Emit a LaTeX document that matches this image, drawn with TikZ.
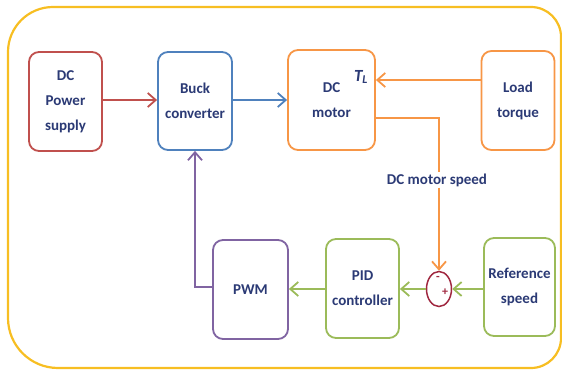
\documentclass[tikz,border=0pt]{standalone}
\usepackage{fontspec}
\setmainfont{Carlito}
\usetikzlibrary{arrows.meta,shapes.geometric}
\definecolor{cred}{HTML}{C0504D}
\definecolor{cblue}{HTML}{4F81BD}
\definecolor{corange}{HTML}{F79646}
\definecolor{cgreen}{HTML}{9BBB59}
\definecolor{cpurple}{HTML}{8064A2}
\definecolor{ctext}{HTML}{2B3A75}
\definecolor{ccirc}{HTML}{A02840}
\definecolor{cframe}{HTML}{F7BE22}
\tikzset{
  blk/.style={draw, line width=1.8pt, rounded corners=10pt, fill=white,
    text=ctext, align=center, font=\fontsize{15}{25}\selectfont\bfseries,
    inner sep=0pt},
  conn/.style={line width=1.8pt, -{Straight Barb[length=8pt,width=14pt,line width=1.8pt]}},
  lbl/.style={text=ctext, font=\fontsize{15}{25}\selectfont\bfseries, inner sep=1pt},
}
\begin{document}
\begin{tikzpicture}[x=1pt,y=-1pt]
\useasboundingbox (0,0) rectangle (562,374);
% frame
\draw[cframe, line width=2.2pt]
  (53,7) -- (531,7) arc[start angle=-90,end angle=0,radius=30] -- (561,338)
  arc[start angle=0,end angle=90,radius=30] -- (58,368)
  arc[start angle=90,end angle=180,radius=50] -- (8,52)
  arc[start angle=180,end angle=270,radius=45] -- cycle;
% blocks
\node[blk, draw=cred, minimum width=73pt, minimum height=99pt] (dc) at (65.5,101.5) {DC\\Power\\supply};
\node[blk, draw=cblue, minimum width=74pt, minimum height=98pt] (buck) at (195,101) {Buck\\converter};
\node[blk, draw=corange, minimum width=87pt, minimum height=100pt] (motor) at (331.5,100) {DC\\motor};
\node[blk, draw=corange, minimum width=73pt, minimum height=99pt] (load) at (518,100.5) {Load\\torque};
\node[blk, draw=cpurple, minimum width=75pt, minimum height=99pt] (pwm) at (250.5,289.5) {PWM};
\node[blk, draw=cgreen, minimum width=73pt, minimum height=99pt] (pid) at (362.5,288.5) {PID\\controller};
\node[blk, draw=cgreen, minimum width=71pt, minimum height=98pt] (ref) at (519.5,287) {Reference\\speed};
\node[draw=ccirc, line width=1.5pt, ellipse, minimum width=25pt, minimum height=35pt, inner sep=0pt] (sum) at (439,289) {};
\node[text=ccirc, font=\fontsize{12}{12}\selectfont\bfseries, inner sep=0pt] (minus) at (438,278) {-};
\node[text=ccirc, font=\fontsize{12}{12}\selectfont\bfseries, inner sep=0pt] (plus) at (445,292) {+};
\node[lbl, font=\fontsize{17}{25}\selectfont\bfseries\itshape] (tl) at (361,77) {T\textsubscript{L}};
\node[lbl] (spd) at (437,180) {DC motor speed};
% connectors
\draw[conn, cred] (dc.east |- 0,100) -- (buck.west |- 0,100);
\draw[conn, cblue] (buck.east |- 0,100) -- (motor.west |- 0,100);
\draw[conn, corange] (load.west |- 0,80) -- (motor.east |- 0,80);
\draw[line width=1.8pt, corange] (motor.east |- 0,118) -| (spd.north -| sum.north);
\draw[conn, corange] (spd.south -| sum.north) -- (sum.north);
\draw[conn, cgreen] (ref.west |- sum.east) -- (sum.east);
\draw[conn, cgreen] (sum.west) -- (pid.east |- sum.west);
\draw[conn, cgreen] (pid.west |- sum.west) -- (pwm.east |- sum.west);
\draw[conn, cpurple] (pwm.west |- 0,287) -| (195,287) -- (buck.south);
\end{tikzpicture}
\end{document}
